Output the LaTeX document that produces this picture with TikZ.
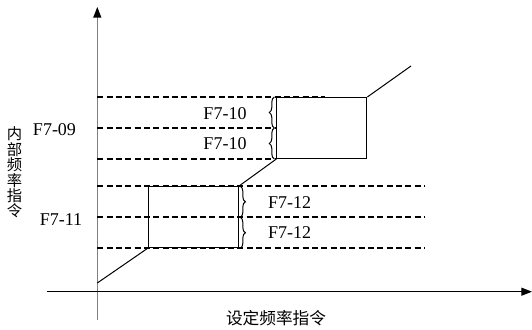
\documentclass[tikz,border=0pt]{standalone}
\usepackage{fontspec}
\setmainfont{Liberation Serif}
\newfontfamily\cjk{Noto Sans CJK SC}
\usepackage{tikz}
\usetikzlibrary{arrows.meta, decorations.pathreplacing}
\usepackage{xcolor}
\definecolor{axisgray}{HTML}{808080}

\begin{document}
\begin{tikzpicture}[x=0.75pt, y=0.75pt,
    axis/.style={-{Triangle[length=8pt, width=6pt, color=black]}},
    band/.style={draw, line width=0.75pt, minimum width=67.5pt,
                 minimum height=45.75pt, inner sep=0pt},
    level/.style={dash pattern=on 4.5pt off 2.5pt, line width=1.25pt},
    curve/.style={line width=0.75pt},
    brc/.style={decorate, decoration={brace, amplitude=3.8pt}, line width=0.75pt},
    lbl/.style={font=\fontsize{13.5}{15}\selectfont},
    cjklbl/.style={font=\cjk\fontsize{12.5}{14}\selectfont}
  ]
    \useasboundingbox (0,0) rectangle (532,329);
    \coordinate (ybot) at (97.3,9);
    \coordinate (ytop) at (97.3,322);
    \coordinate (xleft) at (46.7,37.3);
    \coordinate (xright) at (532,37.3);
    \coordinate (start) at (97.3,46);
    \coordinate (finish) at (411,263);
    \draw[axis, axisgray, line width=1pt] (ybot) -- (ytop);
    \draw[axis, line width=0.8pt] (xleft) -- (xright);

    \node[band] (lowbox) at (193.2,111.75) {};
    \node[band] (upbox) at (321.85,201) {};

    \draw[level] (ybot |- lowbox.north) -- ++(326.7,0);
    \draw[level] (ybot |- lowbox.center) -- ++(326.7,0);
    \draw[level] (ybot |- lowbox.south) -- ++(326.7,0);
    \draw[level] (ybot |- upbox.north) -- ++(227.7,0);
    \draw[level] (ybot |- upbox.west) -- (upbox.west);
    \draw[level] (ybot |- upbox.south west) -- (upbox.south west);

    \draw[curve] (start) -- (lowbox.south west);
    \draw[curve] (lowbox.north east) -- (upbox.south west);
    \draw[curve] (upbox.north east) -- (finish);

    \draw[brc] ([xshift=-1.5pt]upbox.south west) -- ([xshift=-1.5pt]upbox.west);
    \draw[brc] ([xshift=-1.5pt]upbox.west) -- ([xshift=-1.5pt]upbox.north west);
    \draw[brc] ([xshift=1.2pt]lowbox.north east) -- ([xshift=1.2pt]lowbox.east);
    \draw[brc] ([xshift=1.2pt]lowbox.east) -- ([xshift=1.2pt]lowbox.south east);

    \node[lbl] (upper) at (225,215) {F7-10};
    \node[lbl] (lower) at (225,185.5) {F7-10};
    \node[lbl] (high) at (54.5,199) {F7-09};
    \node[lbl] (low) at (61,109) {F7-11};
    \node[lbl] (bandup) at (289.5,126) {F7-12};
    \node[lbl] (banddown) at (289.5,96) {F7-12};

    \node[cjklbl, align=center, font=\cjk\fontsize{11.5}{11.6}\selectfont]
      (ylabel) at (14.5,156.5) {内\\部\\频\\率\\指\\令};
    \node[cjklbl] (xlabel) at (276,11) {设定频率指令};
\end{tikzpicture}
\end{document}
